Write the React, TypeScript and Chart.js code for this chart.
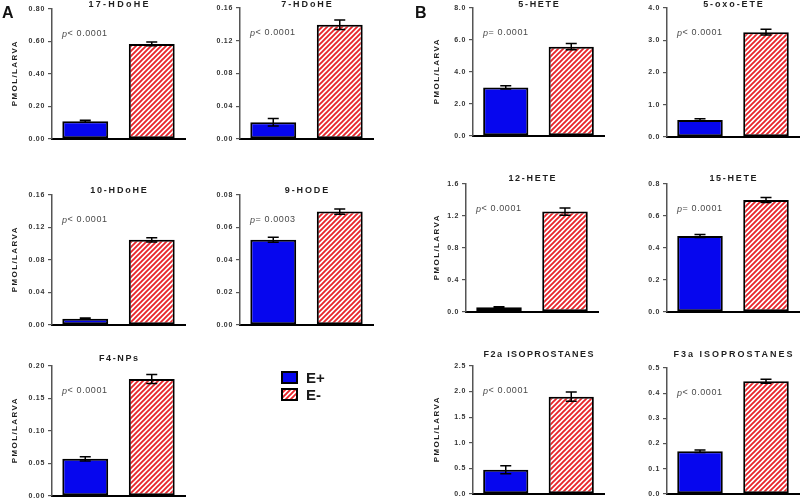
import React, { useEffect, useRef } from "react";
import { Chart, registerables } from "chart.js";

Chart.register(...registerables);

// ---------------- data ----------------
const GROUPS = ["E+", "E-"];
const Y_TITLE = "PMOL/LARVA";

const HDOHE17_TITLE = "17-HDoHE";
const HDOHE17_MEAN = [0.108, 0.585];
const HDOHE17_SEM = [0.006, 0.011];
const HDOHE17_TICKS = ["0.00", "0.20", "0.40", "0.60", "0.80"];
const HDOHE17_P = "< 0.0001";

const HDOHE7_TITLE = "7-HDoHE";
const HDOHE7_MEAN = [0.0203, 0.1395];
const HDOHE7_SEM = [0.0045, 0.0058];
const HDOHE7_TICKS = ["0.00", "0.04", "0.08", "0.12", "0.16"];
const HDOHE7_P = "< 0.0001";

const HDOHE10_TITLE = "10-HDoHE";
const HDOHE10_MEAN = [0.0076, 0.1047];
const HDOHE10_SEM = [0.0007, 0.0025];
const HDOHE10_TICKS = ["0.00", "0.04", "0.08", "0.12", "0.16"];
const HDOHE10_P = "< 0.0001";

const HODE9_TITLE = "9-HODE";
const HODE9_MEAN = [0.0524, 0.0698];
const HODE9_SEM = [0.0015, 0.0016];
const HODE9_TICKS = ["0.00", "0.02", "0.04", "0.06", "0.08"];
const HODE9_P = "= 0.0003";

const F4NP_TITLE = "F4-NPs";
const F4NP_MEAN = [0.057, 0.18];
const F4NP_SEM = [0.0032, 0.007];
const F4NP_TICKS = ["0.00", "0.05", "0.10", "0.15", "0.20"];
const F4NP_P = "< 0.0001";

const HETE5_TITLE = "5-HETE";
const HETE5_MEAN = [3.03, 5.58];
const HETE5_SEM = [0.1, 0.19];
const HETE5_TICKS = ["0.0", "2.0", "4.0", "6.0", "8.0"];
const HETE5_P = "= 0.0001";

const OXOETE5_TITLE = "5-oxo-ETE";
const OXOETE5_MEAN = [0.52, 3.25];
const OXOETE5_SEM = [0.04, 0.09];
const OXOETE5_TICKS = ["0.0", "1.0", "2.0", "3.0", "4.0"];
const OXOETE5_P = "< 0.0001";

const HETE12_TITLE = "12-HETE";
const HETE12_MEAN = [0.058, 1.255];
const HETE12_SEM = [0.005, 0.045];
const HETE12_TICKS = ["0.0", "0.4", "0.8", "1.2", "1.6"];
const HETE12_P = "< 0.0001";

const HETE15_TITLE = "15-HETE";
const HETE15_MEAN = [0.4745, 0.7];
const HETE15_SEM = [0.01, 0.016];
const HETE15_TICKS = ["0.0", "0.2", "0.4", "0.6", "0.8"];
const HETE15_P = "= 0.0001";

const F2A_TITLE = "F2a ISOPROSTANES";
const F2A_MEAN = [0.471, 1.9];
const F2A_SEM = [0.08, 0.09];
const F2A_TICKS = ["0.0", "0.5", "1.0", "1.5", "2.0", "2.5"];
const F2A_P = "< 0.0001";

const F3A_TITLE = "F3a ISOPROSTANES";
const F3A_MEAN = [0.169, 0.447];
const F3A_SEM = [0.005, 0.008];
const F3A_TICKS = ["0.0", "0.1", "0.2", "0.3", "0.4", "0.5"];
const F3A_P = "< 0.0001";

// ---------------- styles / layout ----------------
const FONT = '"Liberation Sans", Arial, Helvetica, sans-serif';
const BLUE = "#0606ee";
const RED = "#e8262c";
const YW = 44; // forced y-axis width
const PT = 20;
const PB = 4;
const PR = 2;

type Layout = {
  axisX: number;
  topY: number;
  zeroY: number;
  rightX: number;
  titleY: number;
  titleSpacing: number;
  yTitleX: number | null;
};

type Panel = {
  title: string;
  mean: number[];
  sem: number[];
  ticks: string[];
  p: string;
  layout: Layout;
};

const PANELS: Panel[] = [
  { title: HDOHE17_TITLE, mean: HDOHE17_MEAN, sem: HDOHE17_SEM, ticks: HDOHE17_TICKS, p: HDOHE17_P,
    layout: { axisX: 52, topY: 9, zeroY: 142, rightX: 185, titleY: 5, titleSpacing: 2.3, yTitleX: 15 } },
  { title: HDOHE7_TITLE, mean: HDOHE7_MEAN, sem: HDOHE7_SEM, ticks: HDOHE7_TICKS, p: HDOHE7_P,
    layout: { axisX: 240, topY: 8, zeroY: 142, rightX: 373, titleY: 5, titleSpacing: 1.9, yTitleX: null } },
  { title: HDOHE10_TITLE, mean: HDOHE10_MEAN, sem: HDOHE10_SEM, ticks: HDOHE10_TICKS, p: HDOHE10_P,
    layout: { axisX: 52, topY: 195, zeroY: 328, rightX: 185, titleY: 191, titleSpacing: 1.8, yTitleX: 15 } },
  { title: HODE9_TITLE, mean: HODE9_MEAN, sem: HODE9_SEM, ticks: HODE9_TICKS, p: HODE9_P,
    layout: { axisX: 240, topY: 195, zeroY: 328, rightX: 373, titleY: 191, titleSpacing: 1.9, yTitleX: null } },
  { title: F4NP_TITLE, mean: F4NP_MEAN, sem: F4NP_SEM, ticks: F4NP_TICKS, p: F4NP_P,
    layout: { axisX: 52, topY: 366, zeroY: 499, rightX: 185, titleY: 359, titleSpacing: 1.6, yTitleX: 15 } },
  { title: HETE5_TITLE, mean: HETE5_MEAN, sem: HETE5_SEM, ticks: HETE5_TICKS, p: HETE5_P,
    layout: { axisX: 473, topY: 8, zeroY: 139, rightX: 604, titleY: 5, titleSpacing: 1.7, yTitleX: 437 } },
  { title: OXOETE5_TITLE, mean: OXOETE5_MEAN, sem: OXOETE5_SEM, ticks: OXOETE5_TICKS, p: OXOETE5_P,
    layout: { axisX: 667, topY: 8, zeroY: 140, rightX: 799, titleY: 5, titleSpacing: 1.9, yTitleX: null } },
  { title: HETE12_TITLE, mean: HETE12_MEAN, sem: HETE12_SEM, ticks: HETE12_TICKS, p: HETE12_P,
    layout: { axisX: 466, topY: 184, zeroY: 315, rightX: 598, titleY: 179, titleSpacing: 1.7, yTitleX: 437 } },
  { title: HETE15_TITLE, mean: HETE15_MEAN, sem: HETE15_SEM, ticks: HETE15_TICKS, p: HETE15_P,
    layout: { axisX: 667, topY: 184, zeroY: 315, rightX: 799, titleY: 179, titleSpacing: 1.7, yTitleX: null } },
  { title: F2A_TITLE, mean: F2A_MEAN, sem: F2A_SEM, ticks: F2A_TICKS, p: F2A_P,
    layout: { axisX: 473, topY: 366, zeroY: 497, rightX: 604, titleY: 355, titleSpacing: 1.4, yTitleX: 437 } },
  { title: F3A_TITLE, mean: F3A_MEAN, sem: F3A_SEM, ticks: F3A_TICKS, p: F3A_P,
    layout: { axisX: 667, topY: 368, zeroY: 497, rightX: 799, titleY: 355, titleSpacing: 2.0, yTitleX: null } },
];

function makeHatch(): CanvasPattern {
  const s = 5;
  const c = document.createElement("canvas");
  c.width = s;
  c.height = s;
  const g = c.getContext("2d")!;
  g.fillStyle = "#ffffff";
  g.fillRect(0, 0, s, s);
  g.strokeStyle = RED;
  g.lineWidth = 1.9;
  g.beginPath();
  g.moveTo(-1, s + 1);
  g.lineTo(s + 1, -1);
  g.moveTo(-1, 1);
  g.lineTo(1, -1);
  g.moveTo(s - 1, s + 1);
  g.lineTo(s + 1, s - 1);
  g.stroke();
  return g.createPattern(c, "repeat")!;
}

function ChartPanel({ panel }: { panel: Panel }) {
  const ref = useRef<HTMLCanvasElement | null>(null);
  const L = panel.layout;
  const left = L.axisX - YW;
  const top = L.topY - PT;
  const width = YW + (L.rightX - L.axisX) + PR;
  const height = L.zeroY - L.topY + PT + PB;

  useEffect(() => {
    const canvas = ref.current!;
    const hatch = makeHatch();
    const ticks = panel.ticks;
    const max = parseFloat(ticks[ticks.length - 1]);

    const textPlugin = {
      id: "panelText",
      beforeDraw(chart: any) {
        chart.ctx.letterSpacing = "0.7px";
      },
      afterDraw(chart: any) {
        const ctx = chart.ctx as CanvasRenderingContext2D;
        const a = chart.chartArea;
        ctx.save();
        // title
        ctx.fillStyle = "#1e1e1e";
        ctx.font = `bold 9px ${FONT}`;
        (ctx as any).letterSpacing = `${L.titleSpacing}px`;
        ctx.textAlign = "center";
        ctx.textBaseline = "middle";
        ctx.fillText(panel.title, (a.left + a.right) / 2 + L.titleSpacing / 2, L.titleY - top);
        // p value
        const px = a.left + 10;
        const py = a.top + 25;
        ctx.textAlign = "left";
        ctx.fillStyle = "#4a4a4a";
        (ctx as any).letterSpacing = "0.6px";
        ctx.font = `italic 9px ${FONT}`;
        ctx.fillText("p", px, py);
        const pw = ctx.measureText("p").width;
        ctx.font = `9px ${FONT}`;
        ctx.fillText(panel.p, px + pw, py);
        // y title
        if (L.yTitleX !== null) {
          ctx.save();
          ctx.translate(L.yTitleX - left, (a.top + a.bottom) / 2);
          ctx.rotate(-Math.PI / 2);
          ctx.font = `bold 8px ${FONT}`;
          (ctx as any).letterSpacing = "1.4px";
          ctx.fillStyle = "#1e1e1e";
          ctx.textAlign = "center";
          ctx.textBaseline = "middle";
          ctx.fillText(Y_TITLE, 0.7, 0);
          ctx.restore();
        }
        ctx.restore();
      },
    };

    const errorPlugin = {
      id: "errorBars",
      afterDatasetsDraw(chart: any) {
        const ctx = chart.ctx as CanvasRenderingContext2D;
        const meta = chart.getDatasetMeta(0);
        const ys = chart.scales.y;
        ctx.save();
        ctx.strokeStyle = "#000";
        ctx.lineWidth = 1.5;
        meta.data.forEach((bar: any, i: number) => {
          const x = bar.x;
          const hi = ys.getPixelForValue(panel.mean[i] + panel.sem[i]);
          const lo = ys.getPixelForValue(Math.max(0, panel.mean[i] - panel.sem[i]));
          const hw = 5.5;
          ctx.beginPath();
          ctx.moveTo(x, hi);
          ctx.lineTo(x, lo);
          ctx.moveTo(x - hw, hi);
          ctx.lineTo(x + hw, hi);
          ctx.moveTo(x - hw, lo);
          ctx.lineTo(x + hw, lo);
          ctx.stroke();
        });
        ctx.restore();
      },
    };

    const chart = new Chart(canvas, {
      type: "bar",
      data: {
        labels: GROUPS,
        datasets: [
          {
            data: panel.mean,
            backgroundColor: [BLUE, hatch as any],
            borderColor: "#000",
            borderWidth: 2,
            borderSkipped: false,
            barPercentage: 0.69,
            categoryPercentage: 1,
          },
        ],
      },
      options: {
        responsive: false,
        maintainAspectRatio: false,
        animation: false,
        devicePixelRatio: 1,
        layout: { padding: { left: 0, right: PR, top: PT, bottom: PB } },
        plugins: {
          legend: { display: false },
          tooltip: { enabled: false },
          title: { display: false },
        },
        scales: {
          x: {
            type: "category",
            offset: true,
            grid: { display: false, drawTicks: false },
            ticks: { display: false },
            border: { display: true, color: "#000", width: 2 },
            afterFit: (s: any) => {
              s.height = 0;
            },
          },
          y: {
            type: "linear",
            min: 0,
            max: max,
            afterBuildTicks: (s: any) => {
              s.ticks = ticks.map((t) => ({ value: parseFloat(t) }));
            },
            ticks: {
              callback: (_v: any, i: number) => ticks[i],
              font: { family: FONT, size: 7, weight: "bold" },
              color: "#333",
              padding: 3,
            },
            grid: { drawOnChartArea: false, drawTicks: true, tickLength: 4, color: "#555", lineWidth: 1.2 },
            border: { display: true, color: "#555", width: 1.5 },
            afterFit: (s: any) => {
              s.width = YW;
            },
          },
        },
      } as any,
      plugins: [textPlugin, errorPlugin],
    });
    return () => chart.destroy();
  }, []);

  return (
    <canvas
      ref={ref}
      width={width}
      height={height}
      style={{ position: "absolute", left, top, width, height }}
    />
  );
}

function Overlay() {
  const ref = useRef<HTMLCanvasElement | null>(null);
  useEffect(() => {
    const c = ref.current!;
    const ctx = c.getContext("2d")!;
    ctx.clearRect(0, 0, 800, 503);
    ctx.fillStyle = "#111";
    ctx.font = `bold 16px ${FONT}`;
    ctx.textBaseline = "alphabetic";
    ctx.fillText("A", 2, 17.5);
    ctx.fillText("B", 415, 17.5);
    // legend
    const hatch = makeHatch();
    const fills: (string | CanvasPattern)[] = [BLUE, hatch];
    const boxY = [371, 388];
    GROUPS.forEach((g, i) => {
      ctx.fillStyle = fills[i] as any;
      ctx.fillRect(281, boxY[i], 17, 13);
      ctx.strokeStyle = "#000";
      ctx.lineWidth = 2;
      ctx.strokeRect(282, boxY[i] + 1, 15, 11);
      ctx.fillStyle = "#1a1a1a";
      ctx.font = `bold 15px ${FONT}`;
      ctx.fillText(g, 306, boxY[i] + 12);
    });
  }, []);
  return (
    <canvas
      ref={ref}
      width={800}
      height={503}
      style={{ position: "absolute", left: 0, top: 0, width: 800, height: 503 }}
    />
  );
}

export default function App() {
  return (
    <div
      style={{
        position: "absolute",
        left: 0,
        top: 0,
        width: 800,
        height: 503,
        background: "#fff",
        overflow: "hidden",
      }}
    >
      <Overlay />
      {PANELS.map((p, i) => (
        <ChartPanel key={i} panel={p} />
      ))}
    </div>
  );
}
